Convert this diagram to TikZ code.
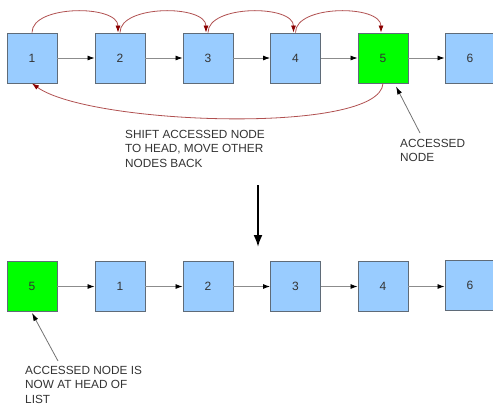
\documentclass[tikz,border=0pt]{standalone}
\usepackage{fontspec}
\setmainfont{Liberation Sans}
\usetikzlibrary{arrows.meta}

\definecolor{cellblue}{HTML}{99CCFF}
\definecolor{cellgreen}{HTML}{00FF00}
\definecolor{cellline}{HTML}{5F6B78}
\definecolor{movered}{HTML}{B05050}
\definecolor{tipred}{HTML}{8B0000}

\begin{document}
\begin{tikzpicture}[x=1pt, y=-1pt,
    cell/.style={draw=cellline, line width=0.9pt, fill=cellblue, minimum size=50pt,
                 inner sep=0pt, font=\fontsize{12}{14}\selectfont, text=black!80},
    hotcell/.style={cell, fill=cellgreen},
    link/.style={draw=black!45, line width=0.8pt, -{Latex[length=7pt, width=5pt, color=black]}},
    movearc/.style={draw=movered, line width=0.8pt, -{Latex[length=7pt, width=5pt, color=tipred]}},
    pointer/.style={draw=black!55, line width=0.8pt, -{Latex[length=8pt, width=5pt, color=black]}},
    note/.style={inner sep=0pt, align=left, anchor=north west, text=black!80,
                 font=\fontsize{11.8}{14.5}\selectfont}]
    \useasboundingbox (0,0) rectangle (493,405);
    \clip (0,0) rectangle (493,405);
%
    \node[cell] (t1) at (32,58) {1};
    \node[cell] (t2) at (120,58) {2};
    \node[cell] (t3) at (208,58) {3};
    \node[cell] (t4) at (295.5,58) {4};
    \node[hotcell] (t5) at (383,58) {5};
    \node[cell] (t6) at (470,58) {6};
    \foreach \a/\b in {t1/t2, t2/t3, t3/t4, t4/t5, t5/t6}
        \draw[link] (\a) -- (\b);
%
    \foreach \a/\b in {t1/t2, t2/t3, t3/t4, t4/t5}
        \draw[movearc] (\a.north) .. controls +(0,-28) and +(0,-28) .. ([xshift=-2pt]\b.north);
    \draw[movearc] (t5.south) .. controls (380,135) and (90,125) .. (t1.south);
%
    \node[note] (shift) at (125,130) {SHIFT ACCESSED NODE\\TO HEAD, MOVE OTHER\\NODES BACK};
    \node[note] (acc) at (400,139) {ACCESSED\\NODE};
    \draw[pointer] ([xshift=20pt, yshift=6pt]acc.north west) -- ([xshift=13pt, yshift=-3pt]t5.south);
%
    \coordinate (from) at (258,185);
    \coordinate (to) at (258,247);
    \draw[line width=2pt, -{Latex[length=12pt, width=9pt]}] (from) -- (to);
%
    \node[hotcell] (b5) at (32,286.5) {5};
    \node[cell] (b1) at (120,286.5) {1};
    \node[cell] (b2) at (208,286.5) {2};
    \node[cell] (b3) at (295.5,286.5) {3};
    \node[cell] (b4) at (383,286.5) {4};
    \node[cell] (b6) at (470,285) {6};
    \foreach \a/\b in {b5/b1, b1/b2, b2/b3, b3/b4}
        \draw[link] (\a) -- (\b);
    \draw[link] (b4.east) -- (b4.east -| b6.west);
%
    \node[note] (head) at (25,366) {ACCESSED NODE IS\\NOW AT HEAD OF\\LIST};
    \draw[pointer] ([xshift=33pt, yshift=5pt]head.north west) -- ([yshift=-1pt]b5.south);
\end{tikzpicture}
\end{document}
